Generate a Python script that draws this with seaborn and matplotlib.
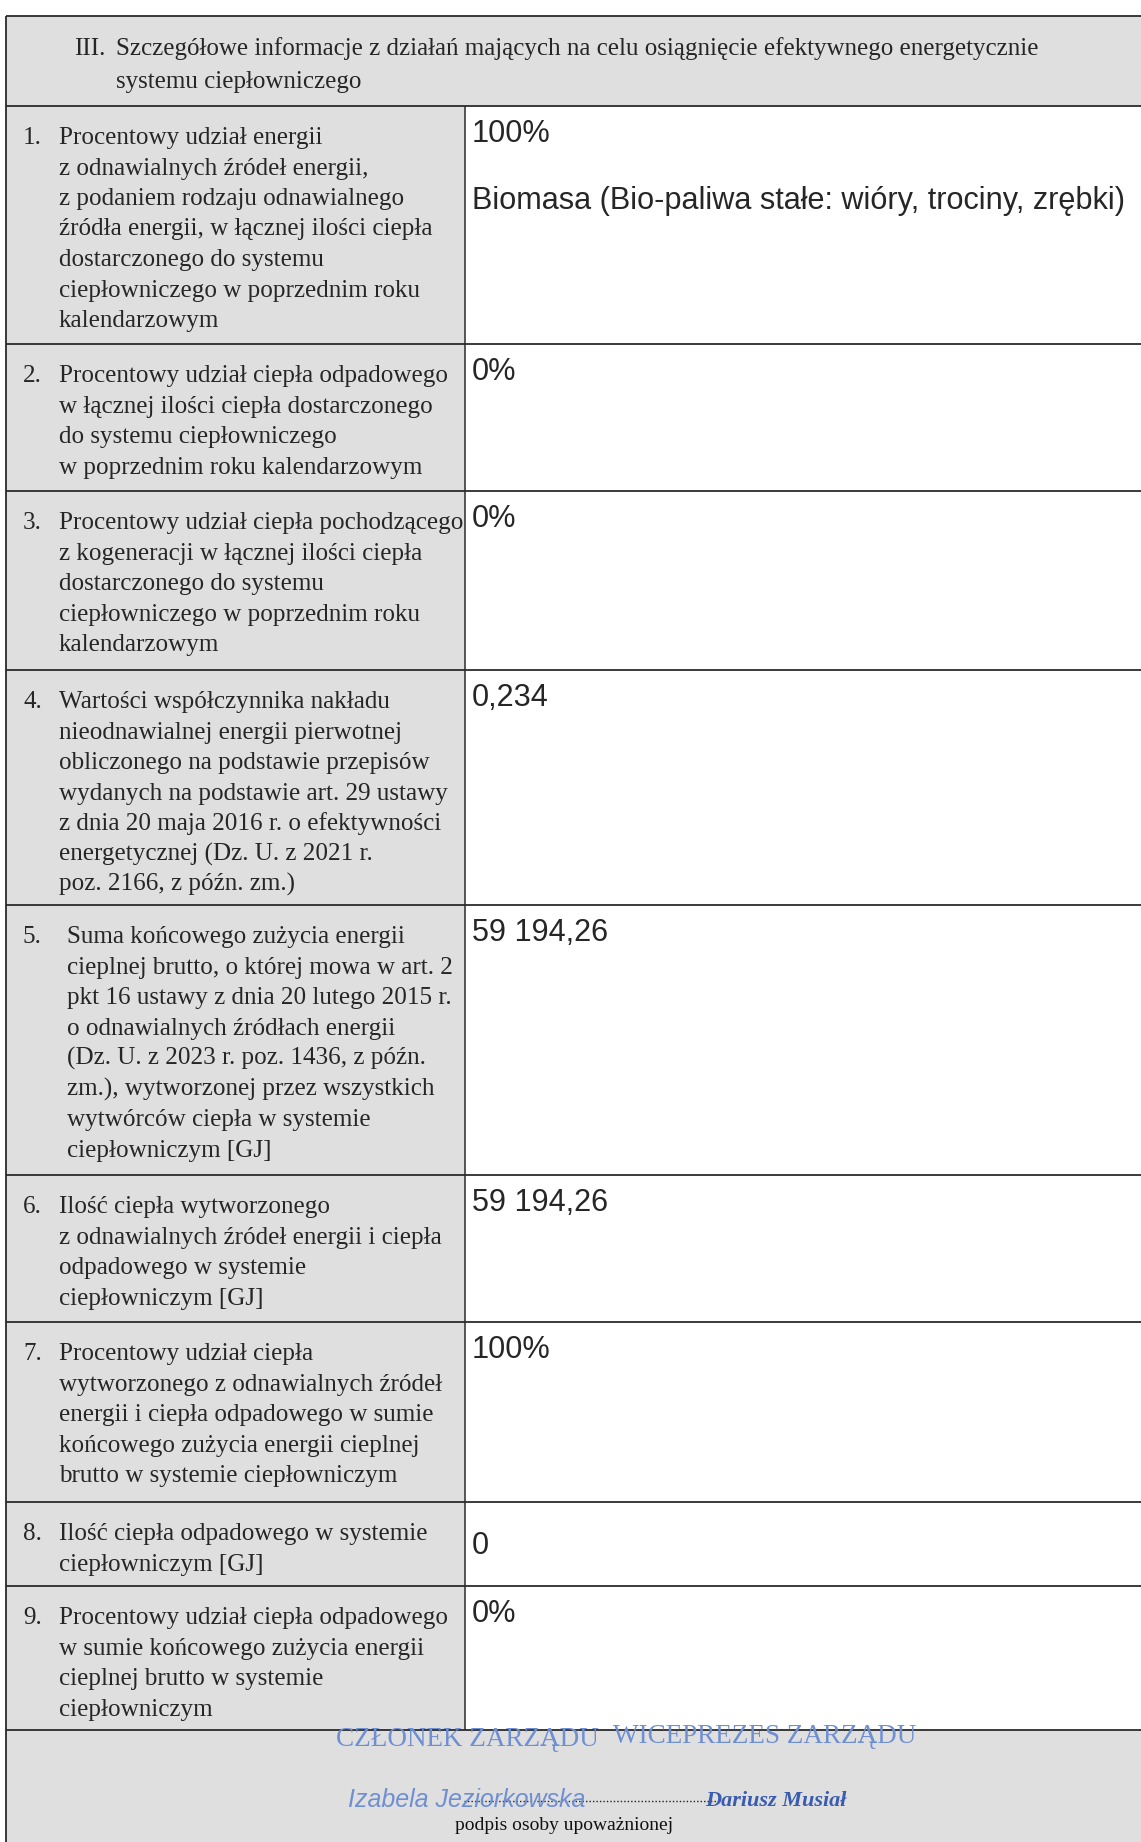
# -*- coding: utf-8 -*-
"""
Tabela III - informacje o efektywnym energetycznie systemie ciepłowniczym
(odtworzenie skanu formularza)
"""

import matplotlib
matplotlib.use('Agg')  # bez ekranu
import matplotlib.pyplot as plt
import seaborn as sns

# ---- dane (treść formularza) ----
header_number = "III."
header_lines = [
    "Szczegółowe informacje z działań mających na celu osiągnięcie efektywnego energetycznie",
    "systemu ciepłowniczego",
]

item_numbers = ["1.", "2.", "3.", "4.", "5.", "6.", "7.", "8.", "9."]

item_labels = [
    ["Procentowy udział energii", "z odnawialnych źródeł energii,",
     "z podaniem rodzaju odnawialnego", "źródła energii, w łącznej ilości ciepła",
     "dostarczonego do systemu", "ciepłowniczego w poprzednim roku",
     "kalendarzowym"],
    ["Procentowy udział ciepła odpadowego", "w łącznej ilości ciepła dostarczonego",
     "do systemu ciepłowniczego", "w poprzednim roku kalendarzowym"],
    ["Procentowy udział ciepła pochodzącego", "z kogeneracji w łącznej ilości ciepła",
     "dostarczonego do systemu", "ciepłowniczego w poprzednim roku",
     "kalendarzowym"],
    ["Wartości współczynnika nakładu", "nieodnawialnej energii pierwotnej",
     "obliczonego na podstawie przepisów", "wydanych na podstawie art. 29 ustawy",
     "z dnia 20 maja 2016 r. o efektywności", "energetycznej (Dz. U. z 2021 r.",
     "poz. 2166, z późn. zm.)"],
    ["Suma końcowego zużycia energii", "cieplnej brutto, o której mowa w art. 2",
     "pkt 16 ustawy z dnia 20 lutego 2015 r.", "o odnawialnych źródłach energii",
     "(Dz. U. z 2023 r. poz. 1436, z późn.", "zm.), wytworzonej przez wszystkich",
     "wytwórców ciepła w systemie", "ciepłowniczym [GJ]"],
    ["Ilość ciepła wytworzonego", "z odnawialnych źródeł energii i ciepła",
     "odpadowego w systemie", "ciepłowniczym [GJ]"],
    ["Procentowy udział ciepła", "wytworzonego z odnawialnych źródeł",
     "energii i ciepła odpadowego w sumie", "końcowego zużycia energii cieplnej",
     "brutto w systemie ciepłowniczym"],
    ["Ilość ciepła odpadowego w systemie", "ciepłowniczym [GJ]"],
    ["Procentowy udział ciepła odpadowego", "w sumie końcowego zużycia energii",
     "cieplnej brutto w systemie", "ciepłowniczym"],
]

item_values = ["100%", "0%", "0%", "0,234", "59 194,26", "59 194,26", "100%", "0", "0%"]
source_type = "Biomasa (Bio-paliwa stałe: wióry, trociny, zrębki)"

stamp_titles = ["CZŁONEK ZARZĄDU", "WICEPREZES ZARZĄDU"]
stamp_names = ["Izabela Jeziorkowska", "Dariusz Musiał"]
signature_caption = "podpis osoby upoważnionej"

# ---- układ strony (piksele) ----
W, H = 1141, 1842
box_top = 16
row_edges = [106, 344, 491, 670, 905, 1175, 1322, 1502, 1586, 1730]
left_x, split_x = 6, 465
num_x = 23
label_x = [59, 59, 59, 59, 67, 59, 59, 59, 59]
value_x = 472
line_h = 30.5
label_first = 38      # linia bazowa pierwszego wiersza od góry komórki
value_first = 36
value_valign = ["top"] * 7 + ["center"] + ["top"]

grey = "#dfdfdf"
line_col = "#2b2b2b"
ink_light = "#6f8fd3"
ink_dark = "#3a5cb0"

sns.set_theme(style="white")
plt.rcParams['font.family'] = ['Liberation Serif', 'DejaVu Serif']

fig = plt.figure(figsize=(W / 100, H / 100), dpi=100)
ax = fig.add_axes([0, 0, 1, 1])
ax.set_xlim(0, W)
ax.set_ylim(H, 0)
ax.axis('off')

# tła komórek
ax.fill_between([left_x, W], box_top, row_edges[0], color=grey, lw=0)
ax.fill_between([left_x, split_x], row_edges[0], row_edges[-1], color=grey, lw=0)
ax.fill_between([left_x, W], row_edges[-1], H, color=grey, lw=0)

# linie tabeli
ax.hlines(box_top, left_x, W, color=line_col, lw=1.3)
ax.hlines(row_edges, left_x, W, color=line_col, lw=1.3)
ax.vlines(left_x, box_top, H, color=line_col, lw=1.3)
ax.vlines(split_x, row_edges[0], row_edges[-1], color=line_col, lw=1.1)

# nagłówek
ax.text(74, 55, header_number, fontsize=18, ha='left', va='baseline')
for i, line in enumerate(header_lines):
    ax.text(116, 55 + i * 33, line, fontsize=18, ha='left', va='baseline')

# wiersze tabeli
for r in range(len(item_numbers)):
    top, bottom = row_edges[r], row_edges[r + 1]
    ax.text(num_x, top + label_first, item_numbers[r], fontsize=18.1,
            ha='left', va='baseline')
    for i, line in enumerate(item_labels[r]):
        ax.text(label_x[r], top + label_first + i * line_h, line, fontsize=18.1,
                ha='left', va='baseline')
    if value_valign[r] == "center":
        ax.text(value_x, (top + bottom) / 2 + 2, item_values[r], fontsize=22.1,
                family='Liberation Sans', ha='left', va='center')
    else:
        ax.text(value_x, top + value_first, item_values[r], fontsize=22.1,
                family='Liberation Sans', ha='left', va='baseline')

# rodzaj źródła OZE w wierszu 1
ax.text(value_x, row_edges[0] + value_first + 67, source_type, fontsize=22.1,
        family='Liberation Sans', ha='left', va='baseline')

# pieczątki i podpis
ax.text(467, 1746, stamp_titles[0], fontsize=19.5, color=ink_light,
        ha='center', va='baseline')
ax.text(765, 1743, stamp_titles[1], fontsize=19.5, color=ink_light,
        ha='center', va='baseline')
ax.text(467, 1807, stamp_names[0], fontsize=18, color=ink_light, style='italic',
        family='Liberation Sans', ha='center', va='baseline')
ax.text(776, 1806, stamp_names[1], fontsize=16, color=ink_dark, style='italic',
        weight='bold', ha='center', va='baseline')
ax.hlines(1801, 464, 717, color='#222222', lw=1.0, linestyles=(0, (1, 1.5)))
ax.text(564, 1830, signature_caption, fontsize=14, color='#111111',
        ha='center', va='baseline')

fig.savefig('out.png', dpi=100)
